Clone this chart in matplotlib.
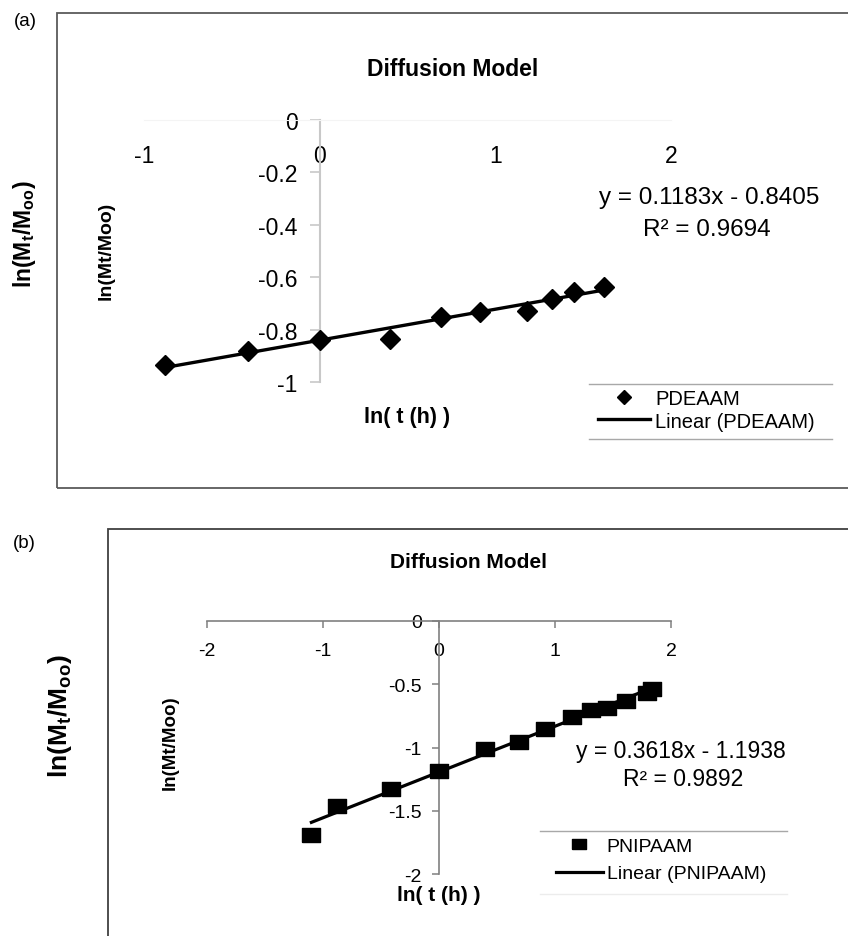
import matplotlib
matplotlib.use('Agg')
import matplotlib.pyplot as plt
from matplotlib.lines import Line2D
from matplotlib.patches import Rectangle
import numpy as np

plt.rcParams['font.family'] = ['Liberation Sans', 'DejaVu Sans']
plt.rcParams['mathtext.fontset'] = 'custom'
plt.rcParams['mathtext.rm'] = 'Liberation Sans'
plt.rcParams['mathtext.bf'] = 'Liberation Sans:bold'
plt.rcParams['mathtext.it'] = 'Liberation Sans:italic'

# (a) PDEAAM
ln_t_a = [-0.88, -0.41, 0.0, 0.40, 0.69, 0.91, 1.18, 1.32, 1.45, 1.62]
ln_m_a = [-0.935, -0.881, -0.840, -0.836, -0.752, -0.733, -0.729, -0.685, -0.658, -0.636]
slope_a, icept_a, r2_a = 0.1183, -0.8405, 0.9694

# (b) PNIPAAM
ln_t_b = [-1.10, -0.88, -0.41, 0.0, 0.40, 0.69, 0.91, 1.15, 1.31, 1.45, 1.61, 1.79, 1.84]
ln_m_b = [-1.695, -1.464, -1.328, -1.184, -1.012, -0.958, -0.857, -0.756, -0.707,
          -0.688, -0.631, -0.571, -0.539]
slope_b, icept_b, r2_b = 0.3618, -1.1938, 0.9892

xticks_a = [-1, 0, 1, 2]
yticks_a = [0, -0.2, -0.4, -0.6, -0.8, -1]
ylabels_a = ['0', '-0.2', '-0.4', '-0.6', '-0.8', '-1']
xticks_b = [-2, -1, 0, 1, 2]
yticks_b = [0, -0.5, -1, -1.5, -2]
ylabels_b = ['0', '-0.5', '-1', '-1.5', '-2']

W, H = 848, 937
fig = plt.figure(figsize=(W / 100, H / 100), dpi=100)


def fx(px):
    return px / W


def fy(py):
    return 1 - py / H


def hline(x0, x1, y, color, lw=1.0):
    fig.add_artist(Line2D([fx(x0), fx(x1)], [fy(y), fy(y)], transform=fig.transFigure,
                          color=color, lw=lw))


# outer frames
fig.add_artist(Rectangle((fx(57), fy(489)), fx(900 - 57), (489 - 14) / H,
                         transform=fig.transFigure, fill=False, ec='#5a5a5a', lw=1.3))
fig.add_artist(Rectangle((fx(108), fy(1000)), fx(900 - 108), (1000 - 530) / H,
                         transform=fig.transFigure, fill=False, ec='#404040', lw=1.3))

fig.text(fx(25), fy(22), '(a)', fontsize=13.5, ha='center', va='center')
fig.text(fx(24), fy(543), '(b)', fontsize=13.5, ha='center', va='center')

# ---- panel (a)
ax = fig.add_axes([fx(144), fy(383), (671 - 144) / W, (383 - 121) / H])
ax.set_xlim(-1, 2)
ax.set_ylim(-1, 0)
for s in ['top', 'right']:
    ax.spines[s].set_visible(False)
ax.spines['left'].set_position(('data', 0))
ax.spines['bottom'].set_position(('data', 0))
ax.spines['left'].set_color('#c8c8c8')
ax.spines['left'].set_linewidth(1.5)
ax.spines['bottom'].set_color('#f4f4f4')
ax.set_xticks(xticks_a)
ax.set_xticklabels([str(v) for v in xticks_a])
ax.set_yticks(yticks_a)
ax.set_yticklabels(ylabels_a)
ax.tick_params(axis='x', length=0, pad=17, labelsize=16.5)
ax.tick_params(axis='y', direction='out', length=7, width=1.2, color='#c8c8c8',
               pad=9, labelsize=16.5)
ax.patch.set_alpha(0)

xa = np.array([min(ln_t_a), max(ln_t_a)])
ax.plot(ln_t_a, ln_m_a, 'D', color='black', markersize=10.5, clip_on=False, label='PDEAAM', zorder=3)
ax.plot(xa, slope_a * xa + icept_a, '-', color='black', lw=2.4, clip_on=False,
        label='Linear (PDEAAM)', zorder=2)

fig.text(fx(453), fy(70), 'Diffusion Model', fontsize=16.5, fontweight='bold',
         ha='center', va='center')
fig.text(fx(709), fy(198), f'y = {slope_a:.4f}x - {abs(icept_a):.4f}', fontsize=17.5,
         ha='center', va='center')
fig.text(fx(707), fy(230), f'R² = {r2_a:.4f}', fontsize=17.5, ha='center', va='center')
fig.text(fx(106), fy(251), 'ln(Mt/Moo)', fontsize=14, fontweight='bold', rotation=90,
         ha='center', va='center')
fig.text(fx(407), fy(418), 'ln( t (h) )', fontsize=15.5, fontweight='bold',
         ha='center', va='center')
fig.text(fx(24), fy(234), r'$\mathbf{ln(M_t/M_{oo})}$', fontsize=16.5, rotation=90,
         ha='center', va='center')

h, l = ax.get_legend_handles_labels()
fig.legend(h, l, loc='center left', bbox_to_anchor=(fx(598), fy(411)), frameon=False,
           fontsize=14.5, handlelength=2.6, handletextpad=0.25, labelspacing=0.15,
           borderpad=0, borderaxespad=0, markerscale=0.72)
hline(589, 832, 385, '#a8a8a8')
hline(589, 832, 440, '#a8a8a8')

# ---- panel (b)
bx = fig.add_axes([fx(207), fy(875), (671 - 207) / W, (875 - 622) / H])
bx.set_xlim(-2, 2)
bx.set_ylim(-2, 0)
for s in ['top', 'right']:
    bx.spines[s].set_visible(False)
bx.spines['left'].set_position(('data', 0))
bx.spines['bottom'].set_position(('data', 0))
for s in ['left', 'bottom']:
    bx.spines[s].set_color('#808080')
    bx.spines[s].set_linewidth(1.2)
bx.set_xticks(xticks_b)
bx.set_xticklabels([str(v) for v in xticks_b])
bx.set_yticks(yticks_b)
bx.set_yticklabels(ylabels_b)
bx.tick_params(axis='x', direction='out', length=5, width=1.1, color='#808080',
               pad=10, labelsize=14)
bx.tick_params(axis='y', direction='out', length=5.4, width=1.1, color='#808080',
               pad=7, labelsize=14)
bx.patch.set_alpha(0)

rect = [(-1, -0.78), (1, -0.78), (1, 0.78), (-1, 0.78), (-1, -0.78)]
xb = np.array([min(ln_t_b), max(ln_t_b)])
bx.plot(ln_t_b, ln_m_b, linestyle='none', marker=rect, color='black', markersize=13.5,
        clip_on=False, label='PNIPAAM', zorder=3)
bx.plot(xb, slope_b * xb + icept_b, '-', color='black', lw=2.3, clip_on=False,
        label='Linear (PNIPAAM)', zorder=2)

fig.text(fx(468), fy(563), 'Diffusion Model', fontsize=15, fontweight='bold',
         ha='center', va='center')
fig.text(fx(681), fy(752), f'y = {slope_b:.4f}x - {abs(icept_b):.4f}', fontsize=16.5,
         ha='center', va='center')
fig.text(fx(683), fy(780), f'R² = {r2_b:.4f}', fontsize=16.5, ha='center', va='center')
fig.text(fx(170), fy(743), 'ln(Mt/Moo)', fontsize=13.5, fontweight='bold', rotation=90,
         ha='center', va='center')
fig.text(fx(439), fy(896), 'ln( t (h) )', fontsize=15, fontweight='bold',
         ha='center', va='center')
fig.text(fx(60), fy(716), r'$\mathbf{ln(M_t/M_{oo})}$', fontsize=19, rotation=90,
         ha='center', va='center')

h, l = bx.get_legend_handles_labels()
fig.legend(h, l, loc='center left', bbox_to_anchor=(fx(556), fy(861)), frameon=False,
           fontsize=14, handlelength=2.4, handletextpad=0.2, labelspacing=0.5,
           borderpad=0, borderaxespad=0, markerscale=0.72)
hline(540, 787, 832, '#a8a8a8')
hline(540, 787, 895, '#ececec')

fig.savefig('out.png', dpi=100)
